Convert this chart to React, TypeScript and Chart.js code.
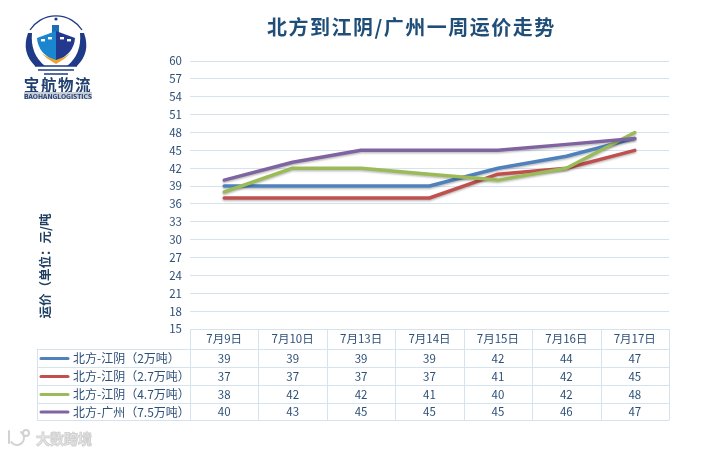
import React, { useEffect, useRef } from "react";
import { Chart, registerables } from "chart.js";

Chart.register(...registerables);

const categories = ["7月9日", "7月10日", "7月13日", "7月14日", "7月15日", "7月16日", "7月17日"];
const seriesNames = ["北方-江阴（2万吨）", "北方-江阴（2.7万吨）", "北方-江阴（4.7万吨）", "北方-广州（7.5万吨）"];
const series2 = [39, 39, 39, 39, 42, 44, 47];
const series27 = [37, 37, 37, 37, 41, 42, 45];
const series47 = [38, 42, 42, 41, 40, 42, 48];
const series75 = [40, 43, 45, 45, 45, 46, 47];
const seriesColors = ["#4f81bd", "#c0504d", "#9bbb59", "#8064a2"];
const titleText = "北方到江阴/广州一周运价走势";
const yTitle = "运价（单位：元/吨";
const FONT = '"Noto Sans CJK SC", "Noto Sans", sans-serif';
const TEXT = "#2c5078";
const GRID = "#d5e3ee";

const allSeries = [series2, series27, series47, series75];

const tablePlugin = {
  id: "dataTable",
  afterDraw(chart: any) {
    const { ctx, chartArea: a } = chart;
    const colW = (a.right - a.left) / categories.length;
    const rows = [a.bottom + 20.5, a.bottom + 38.5, a.bottom + 56.5, a.bottom + 74.5, a.bottom + 91.5];
    const tableLeft = 37;
    ctx.save();
    ctx.strokeStyle = GRID;
    ctx.lineWidth = 1;
    ctx.beginPath();
    ctx.moveTo(a.left, a.bottom + 0.5);
    ctx.lineTo(a.right, a.bottom + 0.5);
    rows.forEach((y) => {
      ctx.moveTo(tableLeft, y);
      ctx.lineTo(a.right, y);
    });
    ctx.moveTo(tableLeft + 0.5, rows[0]);
    ctx.lineTo(tableLeft + 0.5, rows[4]);
    for (let i = 0; i <= categories.length; i++) {
      const x = Math.round(a.left + colW * i) + 0.5;
      ctx.moveTo(x, a.bottom);
      ctx.lineTo(x, rows[4]);
    }
    ctx.stroke();

    ctx.fillStyle = TEXT;
    ctx.textBaseline = "middle";
    ctx.textAlign = "center";
    ctx.font = `11.5px ${FONT}`;
    categories.forEach((c, i) => {
      ctx.fillText(c, a.left + colW * (i + 0.5), a.bottom + 10);
    });
    allSeries.forEach((vals, r) => {
      const yMid = (rows[r] + rows[r + 1]) / 2;
      ctx.textAlign = "center";
      ctx.font = `11.5px ${FONT}`;
      ctx.fillStyle = TEXT;
      vals.forEach((v, i) => {
        ctx.fillText(String(v), a.left + colW * (i + 0.5), yMid);
      });
      ctx.strokeStyle = seriesColors[r];
      ctx.lineWidth = 3;
      ctx.lineCap = "round";
      ctx.beginPath();
      ctx.moveTo(41, yMid);
      ctx.lineTo(68, yMid);
      ctx.stroke();
      ctx.textAlign = "left";
      ctx.font = `12px ${FONT}`;
      ctx.fillText(seriesNames[r], 73, yMid);
    });

    ctx.save();
    ctx.translate(45, 266);
    ctx.rotate(-Math.PI / 2);
    ctx.textAlign = "center";
    ctx.font = `bold 12.5px ${FONT}`;
    ctx.fillStyle = "#1f3f62";
    ctx.fillText(yTitle, 0, 0);
    ctx.restore();

    // watermark
    ctx.strokeStyle = "#d2d2d2";
    ctx.lineWidth = 1;
    ctx.textAlign = "left";
    ctx.font = `bold 14px ${FONT}`;
    ctx.fillStyle = "#eeeeee";
    ctx.fillText("大数跨境", 36, 439);
    ctx.strokeText("大数跨境", 36, 439);
    ctx.lineWidth = 2;
    ctx.beginPath();
    ctx.moveTo(9, 431);
    ctx.lineTo(9, 443);
    ctx.moveTo(21, 432);
    ctx.arc(17, 438, 7, -0.9, Math.PI * 0.8, false);
    ctx.moveTo(29, 433);
    ctx.arc(26, 433, 3, 0, Math.PI * 2);
    ctx.stroke();
    ctx.restore();
  },
};

const shadowPlugin = {
  id: "lineShadow",
  beforeDatasetDraw(chart: any) {
    const { ctx } = chart;
    ctx.save();
    ctx.shadowColor = "rgba(0,0,0,0.25)";
    ctx.shadowBlur = 2;
    ctx.shadowOffsetY = 1.5;
  },
  afterDatasetDraw(chart: any) {
    chart.ctx.restore();
  },
};

function Logo() {
  const navy = "#1f3a86";
  return (
    <svg width="110" height="110" viewBox="0 0 110 110" style={{ position: "absolute", left: 0, top: 0 }}>
      <path d="M30 30 A31 31 0 0 1 82 30" fill="none" stroke={navy} strokeWidth="1.3" />
      <circle cx="56" cy="19" r="1.6" fill={navy} />
      <path d="M28 33 Q21 52 35 66 L45 66 Q30 54 32 33 Z" fill={navy} />
      <path d="M84 33 Q91 52 77 66 L67 66 Q82 54 80 33 Z" fill={navy} />
      <rect x="52" y="25" width="7" height="8" fill="#1a6fb5" />
      <path d="M56 31 L37 38 Q38 54 56 61 Z" fill="#1a86d0" />
      <path d="M56 31 L75 38 Q74 54 56 61 Z" fill="#22398f" />
      <path d="M41 53 Q48 60 56 64 Q64 60 71 53 Q64 58 56 60 Q48 58 41 53 Z" fill="#f0a22e" />
      <rect x="41" y="39" width="4" height="2.4" fill="#fff" />
      <rect x="48" y="37" width="4" height="2.4" fill="#fff" />
      <rect x="60" y="37" width="4" height="2.4" fill="#fff" />
      <rect x="67" y="39" width="4" height="2.4" fill="#fff" />
      <path d="M35 66 H77 M38 70 H74 M44 74 H68" stroke={navy} strokeWidth="1.3" />
      <text x="58" y="91" textAnchor="middle" fontSize="15.5" fontWeight="700" fill="#1f3f6f" letterSpacing="1.6" fontFamily={FONT}>宝航物流</text>
      <rect x="24" y="92" width="68" height="7" fill="#c8cdd8" />
      <text x="58" y="98.5" textAnchor="middle" fontSize="6" fontWeight="700" fill="#1f3f6f" textLength="68" lengthAdjust="spacingAndGlyphs" fontFamily={FONT}>BAOHANGLOGISTICS</text>
    </svg>
  );
}

export default function App() {
  const ref = useRef<HTMLCanvasElement>(null);
  useEffect(() => {
    const chart = new Chart(ref.current!, {
      type: "line",
      data: {
        labels: categories,
        datasets: allSeries.map((data, i) => ({
          label: seriesNames[i],
          data,
          borderColor: seriesColors[i],
          borderWidth: 3.5,
          pointRadius: 0,
          tension: 0,
          fill: false,
          borderJoinStyle: "round" as const,
          borderCapStyle: "round" as const,
          order: 4 - i,
        })),
      },
      options: {
        responsive: false,
        animation: false,
        devicePixelRatio: 1,
        layout: { padding: { left: 0, right: 33, top: 61, bottom: 0 } },
        plugins: {
          legend: { display: false },
          tooltip: { enabled: false },
          title: { display: false },
        },
        scales: {
          x: {
            offset: true,
            ticks: { display: false },
            grid: { display: false },
            border: { display: false },
            afterFit: (s: any) => { s.height = 125; },
          },
          y: {
            min: 15,
            max: 60,
            ticks: {
              stepSize: 3,
              color: TEXT,
              font: { size: 11.5, family: FONT },
              padding: 8,
            },
            grid: { color: GRID, drawTicks: false, lineWidth: 1 },
            border: { display: false },
            afterFit: (s: any) => { s.width = 190; },
          },
        },
      },
      plugins: [tablePlugin, shadowPlugin],
    });
    return () => chart.destroy();
  }, []);
  return (
    <div style={{ position: "absolute", left: 0, top: 0, width: 702, height: 454, background: "#fff" }}>
      <canvas ref={ref} width={702} height={454} style={{ display: "block" }} />
      <Logo />
      <div
        style={{
          position: "absolute",
          left: 267,
          top: 12,
          fontFamily: '"Noto Sans CJK SC", serif',
          fontSize: 20,
          letterSpacing: 1.5,
          fontWeight: 700,
          color: "#1f4e79",
          whiteSpace: "nowrap",
        }}
      >
        {titleText}
      </div>
    </div>
  );
}
